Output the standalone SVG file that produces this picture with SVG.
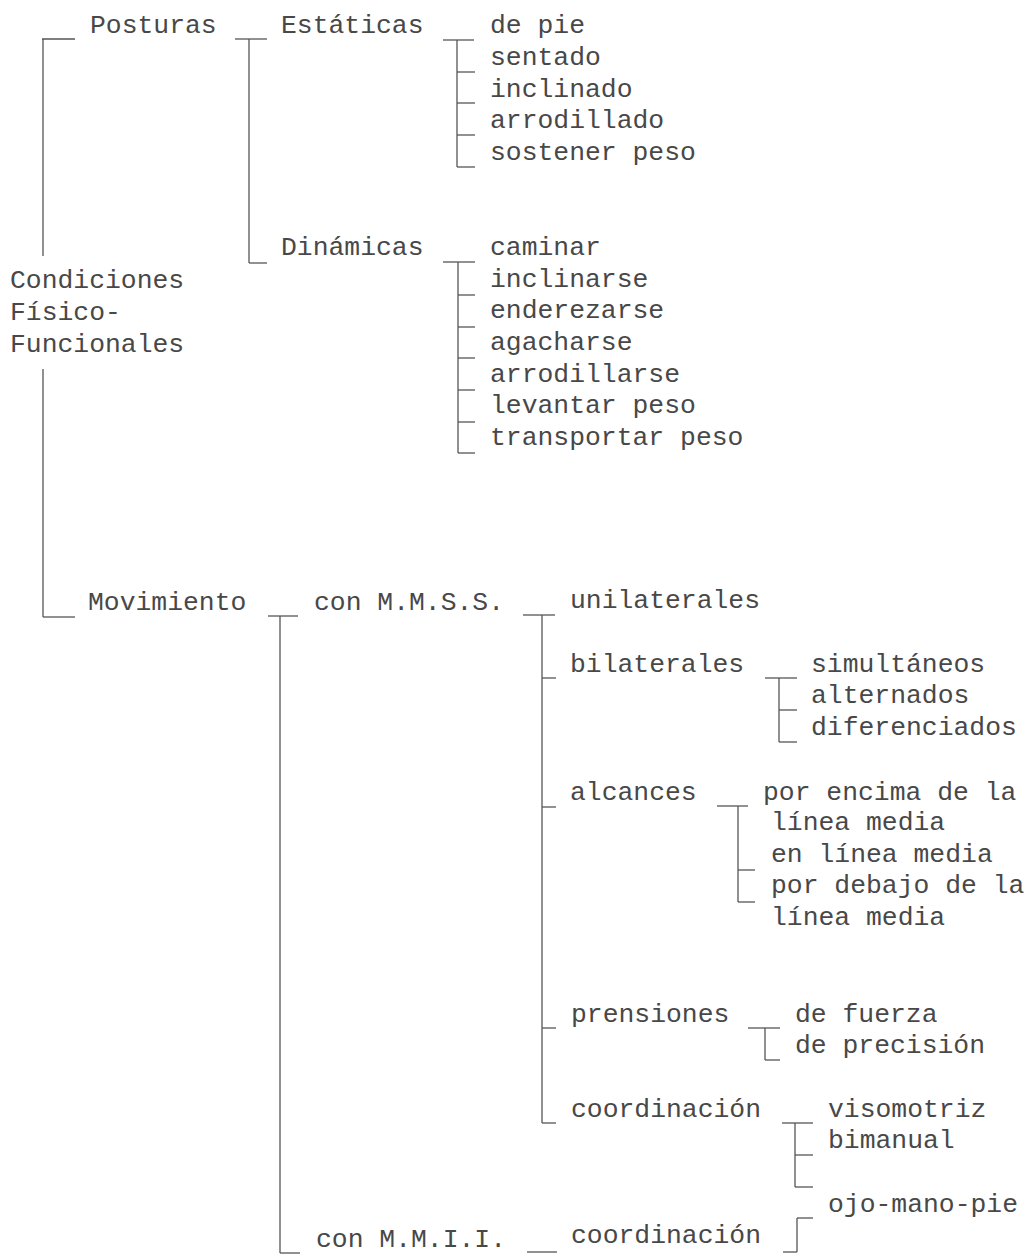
<svg xmlns="http://www.w3.org/2000/svg" width="1033" height="1256" viewBox="0 0 1033 1256">
<style>
text{font-family:"Liberation Mono","Courier New",monospace;font-size:26.4px;fill:#484848}
.c line{stroke:#555;stroke-width:1.3;fill:none}
</style>
<rect width="1033" height="1256" fill="#fff"/>
<g id="connectors" class="c">
<line x1="42" y1="39" x2="75" y2="39"/>
<line x1="43" y1="39" x2="43" y2="256"/>
<line x1="43" y1="369" x2="43" y2="617"/>
<line x1="43" y1="617" x2="75" y2="617"/>
<line x1="235" y1="39" x2="267" y2="39"/>
<line x1="249" y1="39" x2="249" y2="263"/>
<line x1="249" y1="263" x2="267" y2="263"/>
<line x1="443" y1="40" x2="474" y2="40"/>
<line x1="457" y1="40" x2="457" y2="167"/>
<line x1="457" y1="72" x2="475" y2="72"/>
<line x1="457" y1="103" x2="475" y2="103"/>
<line x1="457" y1="135" x2="475" y2="135"/>
<line x1="457" y1="167" x2="475" y2="167"/>
<line x1="443" y1="262" x2="475" y2="262"/>
<line x1="458" y1="262" x2="458" y2="453"/>
<line x1="458" y1="295" x2="475" y2="295"/>
<line x1="458" y1="327" x2="475" y2="327"/>
<line x1="458" y1="358" x2="475" y2="358"/>
<line x1="458" y1="390" x2="475" y2="390"/>
<line x1="458" y1="422" x2="475" y2="422"/>
<line x1="458" y1="453" x2="475" y2="453"/>
<line x1="268" y1="616" x2="298" y2="616"/>
<line x1="280" y1="616" x2="280" y2="1253"/>
<line x1="280" y1="1253" x2="300" y2="1253"/>
<line x1="523" y1="615" x2="555" y2="615"/>
<line x1="542" y1="615" x2="542" y2="1123"/>
<line x1="542" y1="678" x2="556" y2="678"/>
<line x1="542" y1="807" x2="556" y2="807"/>
<line x1="542" y1="1028" x2="556" y2="1028"/>
<line x1="542" y1="1123" x2="556" y2="1123"/>
<line x1="765" y1="678" x2="797" y2="678"/>
<line x1="779" y1="678" x2="779" y2="742"/>
<line x1="779" y1="710" x2="797" y2="710"/>
<line x1="779" y1="742" x2="797" y2="742"/>
<line x1="717" y1="806" x2="748" y2="806"/>
<line x1="738" y1="806" x2="738" y2="902"/>
<line x1="738" y1="870" x2="755" y2="870"/>
<line x1="738" y1="902" x2="755" y2="902"/>
<line x1="748" y1="1028" x2="780" y2="1028"/>
<line x1="765" y1="1028" x2="765" y2="1060"/>
<line x1="765" y1="1060" x2="780" y2="1060"/>
<line x1="782" y1="1123" x2="813" y2="1123"/>
<line x1="795" y1="1123" x2="795" y2="1187"/>
<line x1="795" y1="1155" x2="813" y2="1155"/>
<line x1="795" y1="1187" x2="813" y2="1187"/>
<line x1="527" y1="1252" x2="557" y2="1252"/>
<line x1="783" y1="1252" x2="797" y2="1252"/>
<line x1="797" y1="1218" x2="797" y2="1252"/>
<line x1="797" y1="1218" x2="813" y2="1218"/>
</g>
<g id="root"><text x="10" y="288">Condiciones</text><text x="10" y="320">Físico-</text><text x="10" y="352">Funcionales</text></g>
<g id="posturas"><text x="90" y="33">Posturas</text></g>
<g id="estaticas"><text x="281" y="33">Estáticas</text></g>
<g id="estaticas-items"><text x="490" y="33">de pie</text><text x="490" y="65">sentado</text><text x="490" y="97">inclinado</text><text x="490" y="128">arrodillado</text><text x="490" y="160">sostener peso</text></g>
<g id="dinamicas"><text x="281" y="255">Dinámicas</text></g>
<g id="dinamicas-items"><text x="490" y="255">caminar</text><text x="490" y="287">inclinarse</text><text x="490" y="318">enderezarse</text><text x="490" y="350">agacharse</text><text x="490" y="382">arrodillarse</text><text x="490" y="413">levantar peso</text><text x="490" y="445">transportar peso</text></g>
<g id="movimiento"><text x="88" y="610">Movimiento</text></g>
<g id="mmss"><text x="314" y="610">con M.M.S.S.</text></g>
<g id="unilaterales"><text x="570" y="608">unilaterales</text></g>
<g id="bilaterales"><text x="570" y="672">bilaterales</text></g>
<g id="bilaterales-items"><text x="811" y="672">simultáneos</text><text x="811" y="703">alternados</text><text x="811" y="735">diferenciados</text></g>
<g id="alcances"><text x="570" y="800">alcances</text></g>
<g id="alcances-items"><text x="763" y="800">por encima de la</text><text x="771" y="830">línea media</text><text x="771" y="862">en línea media</text><text x="771" y="893">por debajo de la</text><text x="771" y="925">línea media</text></g>
<g id="prensiones"><text x="571" y="1022">prensiones</text></g>
<g id="prensiones-items"><text x="795" y="1022">de fuerza</text><text x="795" y="1053">de precisión</text></g>
<g id="coordinacion"><text x="571" y="1117">coordinación</text></g>
<g id="coordinacion-items"><text x="828" y="1117">visomotriz</text><text x="828" y="1148">bimanual</text><text x="828" y="1212">ojo-mano-pie</text></g>
<g id="mmii"><text x="316" y="1247">con M.M.I.I.</text></g>
<g id="coordinacion-mmii"><text x="571" y="1243">coordinación</text></g>
</svg>
